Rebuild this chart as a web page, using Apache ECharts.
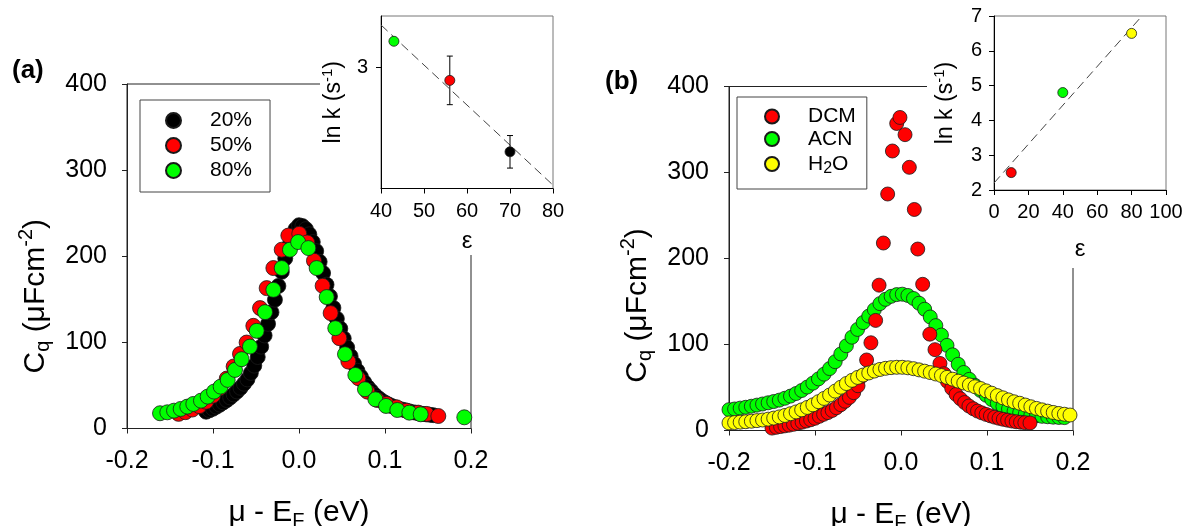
<!DOCTYPE html>
<html><head><meta charset="utf-8">
<script src="https://cdn.jsdelivr.net/npm/echarts@6/dist/echarts.min.js"></script>
<style>html,body{margin:0;padding:0;background:#fff}#c{width:1186px;height:526px}</style>
</head><body><div id="c"></div>
<script>
// ---------- Panel (a): main data ----------
const a20x = [-0.108,-0.104,-0.100,-0.096,-0.092,-0.088,-0.084,-0.080,-0.076,-0.072,-0.068,-0.064,-0.060,-0.056,-0.052,-0.048,-0.044,-0.040,-0.036,-0.032,-0.028,-0.024,-0.020,-0.016,-0.012,-0.008,-0.004,0.000,0.004,0.008,0.012,0.016,0.020,0.024,0.028,0.032,0.036,0.040,0.044,0.048,0.052,0.056,0.060,0.064,0.068,0.072,0.076,0.080,0.084,0.088,0.092,0.096,0.100,0.104,0.108,0.112,0.116,0.120,0.124,0.128,0.132,0.136,0.140,0.144,0.148,0.152,0.156];
const a20y = [19.5,21.2,23.0,25.3,27.7,30.3,33.0,36.0,39.5,43.0,47.2,52.0,57.0,64.5,73.0,83.0,95.0,108.0,121.5,135.0,149.5,165.5,182.0,197.5,211.5,223.0,231.5,236.0,235.0,231.5,225.5,216.5,206.0,193.5,180.5,167.0,153.5,140.0,127.5,116.0,104.5,94.0,84.0,75.0,67.0,60.0,53.5,48.0,43.5,39.0,35.5,32.5,30.0,28.0,26.0,24.5,23.0,22.0,21.0,20.0,19.0,18.3,17.5,17.0,16.4,16.0,15.5];
const a50x = [-0.140,-0.132,-0.124,-0.116,-0.108,-0.100,-0.092,-0.084,-0.076,-0.0686,-0.0609,-0.0531,-0.0453,-0.0376,-0.0298,-0.0201,-0.0124,0.0003,0.0095,0.0174,0.0275,0.0368,0.0469,0.0574,0.0690,0.0795,0.0911,0.1019,0.1136,0.1252,0.1387,0.1484,0.1620];
const a50y = [17,19,22,26,31,38,47,58,72,86.6,99.8,119.2,139.8,163,186.3,207.6,224,226,216,194.8,165.7,134,104.9,77.7,58.4,42.8,33.1,28.5,24.6,20.7,18.4,16.9,14.5];
const a80x = [-0.1616,-0.1531,-0.1453,-0.1376,-0.1299,-0.1229,-0.1140,-0.1062,-0.0988,-0.0911,-0.0829,-0.0744,-0.0667,-0.0570,-0.0492,-0.0395,-0.0298,-0.0201,-0.0105,-0.0010,0.0109,0.0205,0.0322,0.0422,0.0535,0.0655,0.0767,0.0888,0.1012,0.1143,0.1283,0.1415,0.1922];
const a80y = [17.7,18.8,20.7,22.7,25.4,28.5,32.3,37.0,42.8,48.6,56.4,68.0,80.5,95.1,113.4,135.1,161.0,186.3,207.6,216.5,209.5,186.3,152.6,116.5,86.3,62.2,45.6,33.9,26.2,21.5,18.4,16.5,13.0];

// ---------- Panel (a): inset ----------
const insetAEps = [43, 56, 70];
const insetALnk = [3.106, 2.945, 2.651];
const insetAErr = [0, 0.1, 0.067];
const insetAFitX = [40, 80];
const insetAFitY = [3.173, 2.514];

// ---------- Panel (b): main data ----------
const bDCMx = [-0.150,-0.145,-0.140,-0.135,-0.130,-0.125,-0.120,-0.115,-0.110,-0.105,-0.100,-0.095,-0.090,-0.085,-0.080,-0.075,-0.070,-0.065,-0.060,-0.055,-0.050,-0.046,-0.040,-0.035,-0.0295,-0.0255,-0.0205,-0.0155,-0.0100,-0.0050,-0.0012,0.0047,0.0097,0.0155,0.0195,0.0252,0.0335,0.0395,0.0453,0.050,0.054,0.059,0.064,0.069,0.074,0.079,0.084,0.089,0.094,0.099,0.104,0.109,0.114,0.119,0.124,0.129,0.134,0.139,0.144,0.150];
const bDCMy = [2.8,3.7,4.6,5.4,6.2,7.2,8.4,9.7,11.0,12.5,14.2,16.5,18.8,20.8,23.3,26.5,30.0,34.0,38.5,44.0,52.0,63.0,82,102,128,169,218,275,325,357,364,344,306,257,211,170,112,94,78,66,57,49,42,37,32.5,28.5,25.3,22.6,20.5,18.7,17,15.5,14.2,13,12,11,10.2,9.6,9.1,8.8];
const bACNx = [-0.2000,-0.1935,-0.1870,-0.1805,-0.1740,-0.1675,-0.1610,-0.1545,-0.1480,-0.1415,-0.1350,-0.1285,-0.1220,-0.1155,-0.1090,-0.1025,-0.0960,-0.0895,-0.0830,-0.0765,-0.0700,-0.0635,-0.0570,-0.0505,-0.0440,-0.0375,-0.0310,-0.0245,-0.0180,-0.0115,-0.0050,0.0015,0.0080,0.0145,0.0210,0.0275,0.0340,0.0405,0.0470,0.0535,0.0600,0.0665,0.0730,0.0795,0.0860,0.0925,0.0990,0.1055,0.1120,0.1185,0.1250,0.1315,0.1380,0.1445,0.1510,0.1575,0.1640,0.1705,0.1770,0.1835,0.1900];
const bACNy = [24.2,25.0,26.0,27.0,28.2,29.5,30.8,32.2,33.7,35.3,37.5,40.0,43.0,46.5,50.5,55.0,60.0,65.5,72.0,80.0,89.0,98.5,108.5,117.5,125.5,133.0,140.5,147.5,152.5,156.0,158.0,158.5,157.0,153.5,148.0,141.0,132.0,122.0,111.0,99.0,88.0,77.0,67.5,59.5,52.5,46.5,41.0,36.0,31.5,28.0,25.0,22.5,20.5,19.0,18.0,17.2,16.5,16.0,15.5,15.2,15.0];
const bH2Ox = [-0.2000,-0.1935,-0.1870,-0.1805,-0.1740,-0.1675,-0.1610,-0.1545,-0.1480,-0.1415,-0.1350,-0.1285,-0.1220,-0.1155,-0.1090,-0.1025,-0.0960,-0.0895,-0.0830,-0.0765,-0.0700,-0.0635,-0.0570,-0.0505,-0.0440,-0.0375,-0.0310,-0.0245,-0.0180,-0.0115,-0.0050,0.0015,0.0080,0.0145,0.0210,0.0275,0.0340,0.0405,0.0470,0.0535,0.0600,0.0665,0.0730,0.0795,0.0860,0.0925,0.0990,0.1055,0.1120,0.1185,0.1250,0.1315,0.1380,0.1445,0.1510,0.1575,0.1640,0.1705,0.1770,0.1835,0.1900,0.1965];
const bH2Oy = [8.8,9.2,9.7,10.2,10.8,11.5,12.2,13.2,14.4,15.8,17.5,19.5,21.6,24.0,26.8,29.8,33.5,37.3,41.2,45.8,50.3,54.6,58.3,61.7,64.5,66.9,69.1,71.0,72.3,73.1,73.5,73.5,72.9,71.9,70.5,69.0,67.4,65.7,63.9,61.8,59.7,57.4,55.2,53.0,50.9,48.8,46.1,43.4,40.6,38.0,35.6,33.4,31.7,29.6,27.6,25.7,24.0,22.5,21.0,19.8,18.9,18.0];

// ---------- Panel (b): inset ----------
const insetBEps = [10, 40, 80];
const insetBLnk = [2.5, 4.8, 6.5];
const insetBFitX = [0, 86];
const insetBFitY = [2.2, 7];

// ---------- tick / label texts ----------
const mainYTicks = [0, 100, 200, 300, 400];
const insetAYTicks = [3];

const FONT = '"Liberation Sans", Arial, Helvetica, sans-serif';
const AX = '#222';
const zip = (xs, ys) => xs.map((x, i) => [x, ys[i]]);

function mainX(gi) {
  return {
    gridIndex: gi, type: 'value', min: -0.2, max: 0.2, interval: 0.1,
    axisLine: { show: true, onZero: false, lineStyle: { color: AX, width: 1 } },
    axisTick: { show: true, length: 5, lineStyle: { color: AX } },
    axisLabel: { fontSize: 25, color: '#000', fontFamily: FONT, margin: 20, formatter: v => v.toFixed(1) },
    splitLine: { show: false },
    name: 'μ - E{sub|F} (eV)', nameLocation: 'middle', nameGap: 66,
    nameTextStyle: { fontSize: 30, color: '#000', fontFamily: FONT,
      rich: { sub: { fontSize: 20, fontFamily: FONT, color: '#000', padding: [17, 0, 0, 0] } } }
  };
}
function mainY(gi, shift) {
  return {
    gridIndex: gi, type: 'value', min: mainYTicks[0], max: mainYTicks[mainYTicks.length - 1], interval: 100,
    axisLine: { show: true, onZero: false, lineStyle: { color: AX, width: 1 } },
    axisTick: { show: true, length: 5, lineStyle: { color: AX } },
    axisLabel: { fontSize: 25, color: '#000', fontFamily: FONT, margin: 20 },
    splitLine: { show: false },
    name: 'C{sub|q} (μFcm{sup|-2})', nameLocation: 'middle', nameGap: 71,
    nameTextStyle: { fontSize: 30, color: '#000', fontFamily: FONT, padding: [0, shift * 2, 0, 0],
      rich: {
        sub: { fontSize: 20, fontFamily: FONT, color: '#000', padding: [14, 0, 0, 0] },
        sup: { fontSize: 20, fontFamily: FONT, color: '#000', padding: [0, 0, 20, 0] }
      } }
  };
}
const insetName = {
  fontSize: 23, color: '#000', fontFamily: FONT,
  rich: { sup: { fontSize: 15, fontFamily: FONT, color: '#000', padding: [0, 0, 12, 0] } }
};

const mk = (color) => ({ color: color, borderColor: '#1a1a1a', borderWidth: 0.8, opacity: 1 });

const chart = echarts.init(document.getElementById('c'), null, { renderer: 'canvas' });
const option = {
  animation: false,
  backgroundColor: '#fff',
  textStyle: { fontFamily: FONT },
  grid: [
    { left: 127, top: 84, width: 344, height: 344.5, outerBoundsMode: 'none', containLabel: false, show: true, borderColor: AX, borderWidth: 1, backgroundColor: 'transparent' },
    { left: 381, top: 16, width: 172, height: 172.5, outerBoundsMode: 'none', containLabel: false, show: true, borderColor: '#777', borderWidth: 1, backgroundColor: '#fff', z: 52 },
    { left: 729, top: 86.5, width: 344, height: 344, outerBoundsMode: 'none', containLabel: false, show: true, borderColor: AX, borderWidth: 1, backgroundColor: 'transparent' },
    { left: 994, top: 16, width: 172, height: 174, outerBoundsMode: 'none', containLabel: false, show: true, borderColor: '#777', borderWidth: 1, backgroundColor: '#fff', z: 52 }
  ],
  xAxis: [
    mainX(0),
    { gridIndex: 1, type: 'value', min: 40, max: 80, interval: 10, z: 53,
      axisLine: { lineStyle: { color: '#000' } }, axisTick: { length: 5, lineStyle: { color: '#000' } },
      axisLabel: { fontSize: 20, color: '#000', fontFamily: FONT, margin: 13 }, splitLine: { show: false },
      name: 'ε', nameLocation: 'middle', nameGap: 41, nameTextStyle: { fontSize: 24, color: '#000', fontFamily: FONT } },
    mainX(2),
    { gridIndex: 3, type: 'value', min: 0, max: 100, interval: 20, z: 53,
      axisLine: { lineStyle: { color: '#000' } }, axisTick: { length: 5, lineStyle: { color: '#000' } },
      axisLabel: { fontSize: 20, color: '#000', fontFamily: FONT, margin: 12 }, splitLine: { show: false },
      name: 'ε', nameLocation: 'middle', nameGap: 47, nameTextStyle: { fontSize: 24, color: '#000', fontFamily: FONT } }
  ],
  yAxis: [
    mainY(0, 40),
    { gridIndex: 1, type: 'value', min: 2.5, max: 3.21, z: 53,
      axisLine: { lineStyle: { color: '#000' } },
      axisTick: { length: 5, lineStyle: { color: '#000' }, customValues: insetAYTicks },
      axisLabel: { fontSize: 20, color: '#000', fontFamily: FONT, margin: 13, customValues: insetAYTicks },
      splitLine: { show: false },
      name: 'ln k (s{sup|-1})', nameLocation: 'middle', nameGap: 34, nameTextStyle: insetName },
    mainY(2, 47),
    { gridIndex: 3, type: 'value', min: 2, max: 7, interval: 1, z: 53,
      axisLine: { lineStyle: { color: '#000' } }, axisTick: { length: 5, lineStyle: { color: '#000' } },
      axisLabel: { fontSize: 20, color: '#000', fontFamily: FONT, margin: 12 }, splitLine: { show: false },
      name: 'ln k (s{sup|-1})', nameLocation: 'middle', nameGap: 35, nameTextStyle: insetName }
  ],
  legend: [
    { data: ['20%', '50%', '80%'], orient: 'vertical', left: 140, top: 100, icon: 'circle',
      itemWidth: 15, itemHeight: 15, itemGap: 4, padding: [10, 18, 11, 25],
      borderColor: '#444', borderWidth: 1, selectedMode: false,
      formatter: n => '{t|' + n + '}',
      textStyle: { fontSize: 21, color: '#000', fontFamily: FONT,
        rich: { t: { fontSize: 21, fontFamily: FONT, color: '#000', lineHeight: 22, padding: [0, 0, 0, 24] } } } },
    { data: ['DCM', 'ACN', 'H2O'], orient: 'vertical', left: 737, top: 97, icon: 'circle',
      itemWidth: 14, itemHeight: 14, itemGap: 1.5, padding: [9, 11, 12, 27],
      borderColor: '#444', borderWidth: 1, selectedMode: false,
      formatter: n => n === 'H2O' ? '{t|H}{s|2}{u|O}' : '{t|' + n + '}',
      textStyle: { fontSize: 21, color: '#000', fontFamily: FONT,
        rich: {
          t: { fontSize: 21, fontFamily: FONT, color: '#000', lineHeight: 26, padding: [0, 0, 0, 24] },
          s: { fontSize: 16, fontFamily: FONT, color: '#000', lineHeight: 16, padding: [10, 0, 0, 0] },
          u: { fontSize: 21, fontFamily: FONT, color: '#000', lineHeight: 26 }
        } } }
  ],
  series: [
    { name: '20%', type: 'scatter', xAxisIndex: 0, yAxisIndex: 0, symbolSize: 15, itemStyle: mk('#000000'), data: zip(a20x, a20y), z: 2 },
    { name: '50%', type: 'scatter', xAxisIndex: 0, yAxisIndex: 0, symbolSize: 15, itemStyle: mk('#ff0000'), data: zip(a50x, a50y), z: 2 },
    { name: '80%', type: 'scatter', xAxisIndex: 0, yAxisIndex: 0, symbolSize: 15, itemStyle: mk('#00ff00'), data: zip(a80x, a80y), z: 2 },

    { name: 'fitA', type: 'line', xAxisIndex: 1, yAxisIndex: 1, symbol: 'none', z: 53,
      lineStyle: { color: '#444', width: 1, type: [9, 5] }, data: zip(insetAFitX, insetAFitY) },
    { name: 'errA', type: 'custom', xAxisIndex: 1, yAxisIndex: 1, z: 54,
      data: insetAEps.map((x, i) => [x, insetALnk[i], insetAErr[i]]).filter(d => d[2] > 0),
      encode: { x: 0, y: 1 },
      renderItem: (params, api) => {
        const x = api.value(0), y = api.value(1), e = api.value(2);
        const p1 = api.coord([x, y + e]), p2 = api.coord([x, y - e]);
        const c = 3, st = { stroke: '#000', lineWidth: 1 };
        return { type: 'group', children: [
          { type: 'line', shape: { x1: p1[0], y1: p1[1], x2: p2[0], y2: p2[1] }, style: st },
          { type: 'line', shape: { x1: p1[0] - c, y1: p1[1], x2: p1[0] + c, y2: p1[1] }, style: st },
          { type: 'line', shape: { x1: p2[0] - c, y1: p2[1], x2: p2[0] + c, y2: p2[1] }, style: st }
        ] };
      } },
    { name: 'ptsA', type: 'scatter', xAxisIndex: 1, yAxisIndex: 1, symbolSize: 10, z: 55,
      itemStyle: { borderColor: '#1a1a1a', borderWidth: 0.8, opacity: 1, color: p => ['#00ff00', '#ff0000', '#000000'][p.dataIndex] },
      data: zip(insetAEps, insetALnk) },

    { name: 'ACN', type: 'scatter', xAxisIndex: 2, yAxisIndex: 2, symbolSize: 14, itemStyle: mk('#00ff00'), data: zip(bACNx, bACNy), z: 2 },
    { name: 'DCM', type: 'scatter', xAxisIndex: 2, yAxisIndex: 2, symbolSize: 14, itemStyle: mk('#ff0000'), data: zip(bDCMx, bDCMy), z: 2 },
    { name: 'H2O', type: 'scatter', xAxisIndex: 2, yAxisIndex: 2, symbolSize: 14, itemStyle: mk('#ffff00'), data: zip(bH2Ox, bH2Oy), z: 2 },

    { name: 'fitB', type: 'line', xAxisIndex: 3, yAxisIndex: 3, symbol: 'none', z: 53,
      lineStyle: { color: '#444', width: 1, type: [9, 5] }, data: zip(insetBFitX, insetBFitY) },
    { name: 'ptsB', type: 'scatter', xAxisIndex: 3, yAxisIndex: 3, symbolSize: 10, z: 55,
      itemStyle: { borderColor: '#1a1a1a', borderWidth: 0.8, opacity: 1, color: p => ['#ff0000', '#00ff00', '#ffff00'][p.dataIndex] },
      data: zip(insetBEps, insetBLnk) }
  ],
  graphic: { elements: [
    { type: 'rect', silent: true, z: 50, shape: { x: 320, y: 0, width: 250, height: 232 }, style: { fill: '#fff' } },
    { type: 'rect', silent: true, z: 50, shape: { x: 440, y: 231, width: 130, height: 24 }, style: { fill: '#fff' } },
    { type: 'rect', silent: true, z: 50, shape: { x: 927, y: 0, width: 259, height: 232 }, style: { fill: '#fff' } },
    { type: 'rect', silent: true, z: 50, shape: { x: 1040, y: 231, width: 146, height: 37 }, style: { fill: '#fff' } },
    { type: 'text', z: 100, x: 12, y: 71, style: { text: '(a)', font: 'bold 26px ' + FONT, fill: '#000', align: 'left', verticalAlign: 'middle' } },
    { type: 'text', z: 100, x: 605, y: 82, style: { text: '(b)', font: 'bold 26px ' + FONT, fill: '#000', align: 'left', verticalAlign: 'middle' } }
  ] }
};
chart.setOption(option);
</script>
</body></html>
